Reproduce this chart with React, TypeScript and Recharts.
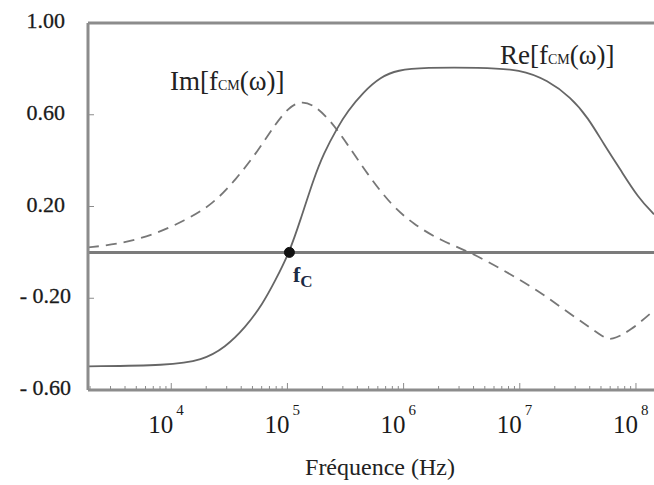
import { LineChart, Line, XAxis, YAxis, ReferenceLine, ReferenceDot } from 'recharts';

// Frequencies (Hz) and values
const RE_FREQ = [
	1.92e3, 9.4e3, 1.85e4, 2.92e4, 4.35e4, 6.09e4, 7.88e4, 1.04e5, 1.29e5,
	1.68e5, 2.04e5, 2.7e5, 3.29e5, 4.52e5, 6.34e5, 8.87e5, 1.49e6, 4.61e6, 1.02e7,
	1.74e7, 2.75e7, 3.86e7, 5.3e7, 7.43e7, 1.04e8, 1.43e8,
];
const RE_VALUES = [
	-0.497, -0.493, -0.471, -0.414, -0.327, -0.227, -0.122, 0, 0.139,
	0.32, 0.43, 0.545, 0.615, 0.7, 0.765, 0.795, 0.806, 0.806, 0.798,
	0.75, 0.676, 0.588, 0.471, 0.357, 0.24, 0.166,
];

const IM_FREQ = [
	1.92e3, 3.49e3, 6.85e3, 1.32e4, 2.26e4, 3.56e4, 5.62e4, 7.88e4, 1.02e5, 1.29e5,
	1.68e5, 2.35e5, 3.29e5, 4.9e5, 7.73e5, 1.22e6, 2.08e6, 3.78e6, 7.28e6,
	1.43e7, 2.75e7, 5.3e7, 6.08e7, 9.06e7, 1.43e8,
];
const IM_VALUES = [
	0.022, 0.035, 0.074, 0.139, 0.209, 0.314, 0.445, 0.56, 0.63, 0.66,
	0.645, 0.575, 0.471, 0.34, 0.209, 0.122, 0.052, 0, -0.078,
	-0.166, -0.27, -0.371, -0.385, -0.34, -0.253,
];

const Y_TICKS = [1.0, 0.6, 0.2, -0.2, -0.6];
const DECADES = [1e3, 1e4, 1e5, 1e6, 1e7, 1e8];
const FC = 1.04e5;

const X_MIN = 1.92e3;
const X_MAX = 1.43e8;

const FRAME = '#8c8c8c';
const SERIF = '"Liberation Serif", "DejaVu Serif", serif';

const reData = RE_FREQ.map((f, i) => ({ f, v: RE_VALUES[i] }));
const imData = IM_FREQ.map((f, i) => ({ f, v: IM_VALUES[i] }));

// minor ticks 2..9 of every decade, plus the decades themselves
const xTicks: number[] = [];
DECADES.forEach((d) => {
	for (let m = 1; m <= 9; m++) {
		const t = d * m;
		if (t >= X_MIN && t <= X_MAX) xTicks.push(t);
	}
});

const XTick = (props: any) => {
	const { x, y, payload } = props;
	const lg = Math.log10(payload.value);
	const exp = Math.round(lg);
	const decade = Math.abs(lg - exp) < 1e-6;
	return (
		<g>
			<line x1={x} x2={x} y1={y - 1} y2={y - (decade ? 7 : 4)} stroke={FRAME} strokeWidth={1} />
			{decade && (
				<text x={x - 23} y={y + 43} fontFamily={SERIF} fontSize={25} fill='#1a1a1a'>
					10
					<tspan dx={3} dy={-18} fontSize={15}>
						{exp}
					</tspan>
				</text>
			)}
		</g>
	);
};

const YTick = (props: any) => {
	const { x, y, payload } = props;
	const v = payload.value as number;
	const label = v < 0 ? `- ${Math.abs(v).toFixed(2)}` : v.toFixed(2);
	return (
		<g>
			<line x1={x + 1} x2={x + 6} y1={y} y2={y} stroke={FRAME} strokeWidth={1} />
			<text
				x={x - (v < 0 ? 17 : 23)}
				y={y + 5}
				textAnchor='end'
				fontFamily={SERIF}
				fontSize={22}
				fill='#1a1a1a'
				stroke='#1a1a1a'
				strokeWidth={0.3}
			>
				{label}
			</text>
		</g>
	);
};

const labelStyle: React.CSSProperties = {
	position: 'absolute',
	fontFamily: SERIF,
	fontSize: 27,
	lineHeight: 1,
	color: '#222',
	whiteSpace: 'nowrap',
};

const Sub = () => <span style={{ fontSize: 14 }}>CM</span>;

const App = () => {
	return (
		<div
			style={{
				position: 'absolute',
				left: 0,
				top: 0,
				width: 654,
				height: 485,
				overflow: 'hidden',
				background: '#fff',
			}}
		>
			<LineChart
				width={654}
				height={485}
				margin={{ top: 23, right: 0, bottom: 35, left: 8 }}
			>
				<XAxis
					type='number'
					dataKey='f'
					scale='log'
					domain={[X_MIN, X_MAX]}
					allowDataOverflow
					ticks={xTicks}
					interval={0}
					height={60}
					tickSize={0}
					tickMargin={0}
					tick={<XTick />}
					axisLine={{ stroke: FRAME, strokeWidth: 3 }}
				/>
				<YAxis
					type='number'
					domain={[-0.6, 1.0]}
					ticks={Y_TICKS}
					interval={0}
					width={80}
					tickSize={0}
					tickMargin={0}
					tick={<YTick />}
					axisLine={{ stroke: FRAME, strokeWidth: 3 }}
				/>
				<ReferenceLine y={1.0} stroke={FRAME} strokeWidth={3} />
				<ReferenceLine y={0} stroke='#7b7b7b' strokeWidth={3} />
				<Line
					data={imData}
					dataKey='v'
					type='basis'
					stroke='#777'
					strokeWidth={1.8}
					strokeDasharray='11 7'
					dot={false}
					isAnimationActive={false}
				/>
				<Line
					data={reData}
					dataKey='v'
					type='basis'
					stroke='#666'
					strokeWidth={1.8}
					dot={false}
					isAnimationActive={false}
				/>
				<ReferenceDot x={FC} y={0} r={5} fill='#111' stroke='#111' />
			</LineChart>

			<div style={{ ...labelStyle, left: 170, top: 68 }}>
				Im[f<Sub />(ω)]
			</div>
			<div style={{ ...labelStyle, left: 500, top: 42 }}>
				Re[f<Sub />(ω)]
			</div>
			<div
				style={{
					...labelStyle,
					left: 293,
					top: 264,
					fontSize: 22,
					fontWeight: 'bold',
					color: '#1b2a44',
				}}
			>
				f<span style={{ fontSize: 17, position: 'relative', top: 5 }}>C</span>
			</div>
			<div
				style={{
					...labelStyle,
					left: 280,
					top: 455,
					width: 200,
					textAlign: 'center',
					fontSize: 24,
				}}
			>
				Fréquence (Hz)
			</div>
		</div>
	);
};

export default App;
